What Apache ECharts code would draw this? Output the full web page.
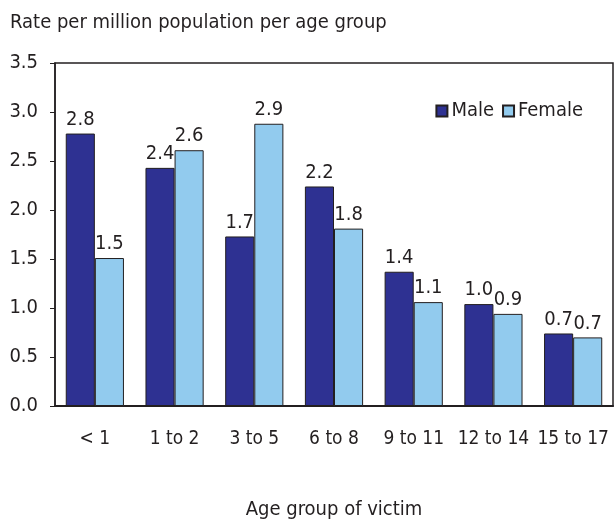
<!DOCTYPE html>
<html>
<head>
<meta charset="utf-8">
<script src="https://cdn.jsdelivr.net/npm/echarts@6/dist/echarts.min.js"></script>
<style>
  body { margin: 0; background: #fff; }
  #main { width: 615px; height: 519px; }
</style>
</head>
<body>
<div id="main"></div>
<script>
  // age groups and rates per million
  var categories = ['< 1', '1 to 2', '3 to 5', '6 to 8', '9 to 11', '12 to 14', '15 to 17'];
  var maleData = [2.78, 2.43, 1.73, 2.24, 1.37, 1.04, 0.74];
  var femaleData = [1.51, 2.61, 2.88, 1.81, 1.06, 0.94, 0.70];

  var font = '"DejaVu Sans Condensed", "Liberation Sans Narrow", Arial, sans-serif';
  var textColor = '#231f20';

  var myChart = echarts.init(document.getElementById('main'));
  var option = {
    backgroundColor: '#fff',
    animation: false,
    title: {
      text: 'Rate per million population per age group',
      left: 5,
      top: 8,
      textStyle: { fontFamily: font, fontSize: 20, fontWeight: 'normal', color: textColor }
    },
    legend: {
      data: ['Male', 'Female'],
      icon: 'rect',
      right: 27,
      top: 96,
      itemWidth: 11,
      itemHeight: 11,
      itemGap: 8,
      textStyle: { fontFamily: font, fontSize: 20, color: textColor, padding: [0, 0, 0, -1] }
    },
    grid: {
      left: 55,
      right: 2,
      top: 63,
      bottom: 113,
      outerBoundsMode: 'none',
      show: true,
      borderColor: '#231f20',
      borderWidth: 1.5
    },
    xAxis: {
      type: 'category',
      data: categories,
      name: 'Age group of victim',
      nameLocation: 'middle',
      nameGap: 94,
      nameTextStyle: { fontFamily: font, fontSize: 20, color: textColor },
      axisLine: { lineStyle: { color: '#231f20', width: 2 } },
      axisTick: { show: false },
      axisLabel: { fontFamily: font, fontSize: 19, color: textColor, margin: 24, interval: 0 }
    },
    yAxis: {
      type: 'value',
      min: 0,
      max: 3.5,
      interval: 0.5,
      axisLine: { show: true, lineStyle: { color: '#231f20', width: 1.5 } },
      axisTick: { show: true, length: 5, lineStyle: { color: '#231f20' } },
      splitLine: { show: false },
      axisLabel: {
        fontFamily: font, fontSize: 20, color: textColor, margin: 17,
        padding: [4, 0, 0, 0],
        formatter: function (v) { return v.toFixed(1); }
      }
    },
    series: [
      {
        name: 'Male',
        type: 'bar',
        data: maleData,
        barGap: '0%',
        barCategoryGap: '27%',
        itemStyle: { color: '#2e3192', borderColor: '#231f20', borderWidth: 1 },
        label: {
          show: true, position: 'top', distance: 4,
          fontFamily: font, fontSize: 20, color: textColor,
          formatter: function (p) { return p.value.toFixed(1); }
        }
      },
      {
        name: 'Female',
        type: 'bar',
        data: femaleData,
        itemStyle: { color: '#92cbee', borderColor: '#231f20', borderWidth: 1 },
        label: {
          show: true, position: 'top', distance: 4,
          fontFamily: font, fontSize: 20, color: textColor,
          formatter: function (p) { return p.value.toFixed(1); }
        }
      }
    ]
  };
  myChart.setOption(option);
</script>
</body>
</html>
